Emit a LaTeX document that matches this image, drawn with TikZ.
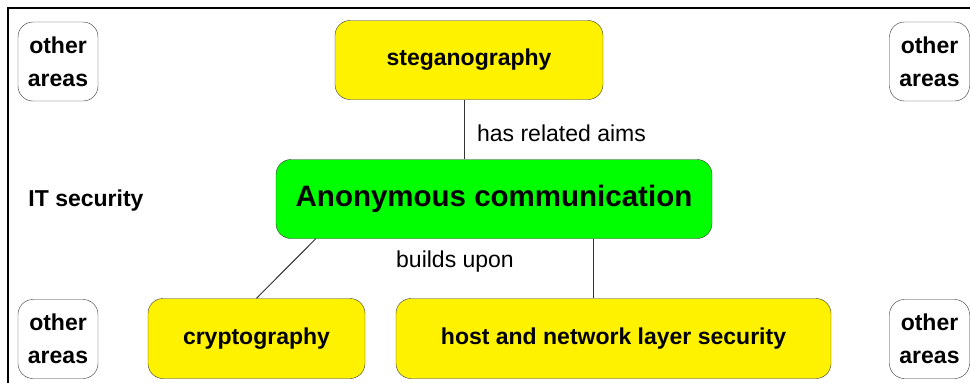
\documentclass[tikz,border=0pt]{standalone}
\usepackage{fontspec}
\setmainfont{Liberation Sans}
\usepackage{tikz}
\usetikzlibrary{positioning}

\tikzset{
	areabox/.style={draw=black!80, fill=white, rounded corners=15pt, align=center,
		minimum width=80pt, minimum height=79pt, inner sep=0pt,
		font=\fontsize{23}{33}\selectfont\bfseries},
	topicbox/.style={draw=black!80, fill=yellow, rounded corners=15pt,
		minimum height=80pt, inner sep=0pt,
		font=\fontsize{23}{31}\selectfont\bfseries},
	mainbox/.style={draw=black!80, fill=green, rounded corners=15pt,
		minimum width=436pt, minimum height=79pt, inner sep=0pt,
		font=\fontsize{29.5}{36}\selectfont\bfseries},
	linklabel/.style={inner sep=0pt, font=\fontsize{23}{28}\selectfont}
}

\begin{document}
\begin{tikzpicture}[x=1pt, y=-1pt]
	\useasboundingbox (0,0) rectangle (970,383);
	% frame of the IT security area
	\draw[line width=2.5pt] (972,8) -- (8,8) -- (8,385);

	\begin{scope}[every node/.style={areabox}]
		\node (tl) at (58,61.5) {other\\areas};
		\node (tr) at (929.5,61.5) {other\\areas};
		\node (bl) at (58,339) {other\\areas};
		\node (br) at (929.5,339) {other\\areas};
	\end{scope}

	\node[topicbox, minimum width=268pt, minimum height=79pt] (steg) at (469,60) {steganography};
	\node[mainbox] (anon) at (494,199) {Anonymous communication};
	\node[topicbox, minimum width=217pt] (crypto) at (256.5,338.5) {cryptography};
	\node[topicbox, minimum width=435pt] (host) at (613.5,338.5) {host and network layer security};

	\node[inner sep=0pt, font=\fontsize{23}{28}\selectfont\bfseries] (itsec) at (86,201) {IT security};

	\begin{scope}[every path/.style={draw=black!80, line width=1pt}]
		\path ([xshift=-5pt]steg.south) edge ([xshift=-5pt]steg.south |- anon.north);
		\path ([xshift=40pt]anon.south west) edge (crypto.north);
		\path ([xshift=-20.5pt]host.north) edge ([xshift=-20.5pt]host.north |- anon.south);
	\end{scope}

	\node[linklabel] (aims) at (561.5,133) {has related aims};
	\node[linklabel] (upon) at (455,262) {builds upon};
\end{tikzpicture}
\end{document}
